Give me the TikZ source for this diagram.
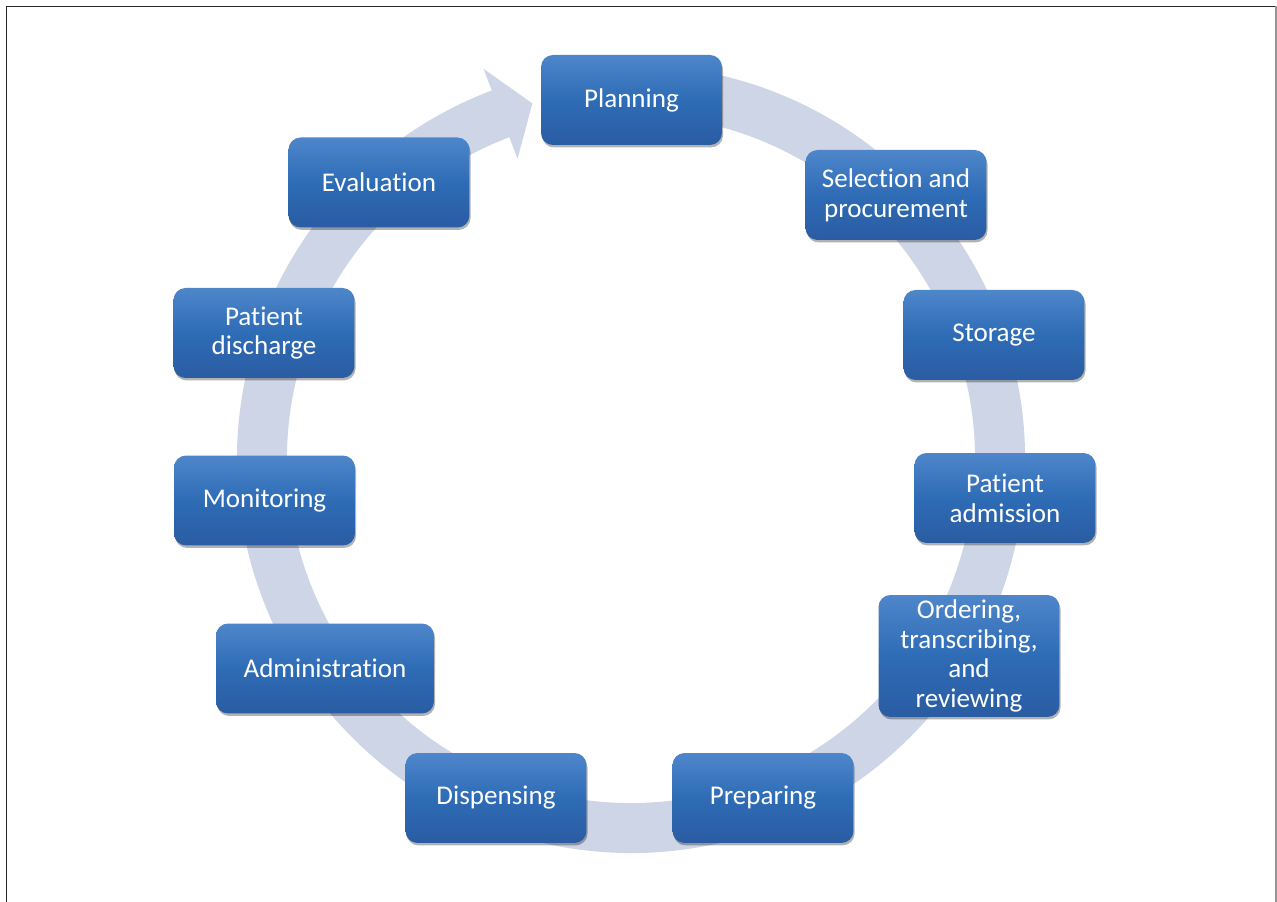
\documentclass[tikz,border=0pt]{standalone}
\usepackage{fontspec}
\setmainfont{Carlito}[Ligatures={NoCommon}]
\usetikzlibrary{shadows}
\definecolor{ringc}{RGB}{205,213,231}
\definecolor{boxtop}{RGB}{78,134,202}
\definecolor{boxmid}{RGB}{46,108,182}
\definecolor{boxbot}{RGB}{42,92,162}
\definecolor{frameL}{RGB}{40,40,40}
\definecolor{frameR}{RGB}{150,150,150}
\begin{document}
\begin{tikzpicture}[x=0.02cm,y=0.02cm,
  stage/.style={rounded corners=0.24cm, shading=axis, top color=boxtop, bottom color=boxbot, middle color=boxmid,
    text=white, font=\fontsize{15.4}{17}\selectfont, align=center, inner sep=0pt,
    minimum width=3.62cm, minimum height=1.8cm,
    drop shadow={shadow xshift=0.6pt, shadow yshift=-1.4pt, fill=black, opacity=0.3}},
  ring/.style={fill=ringc, draw=none}]
\useasboundingbox (0,0) rectangle (1277,902);
% frame
\draw[frameL, line width=1.1pt] (6.5,0) -- (6.5,895.5) -- (1276,895.5);
\draw[frameR, line width=0.8pt] (1276,895.5) -- (1276,0);
% ring with arrowhead
\coordinate (C) at (631,443);
\begin{scope}[shift={(C)}]
  \fill[ring] (80:394) arc[start angle=80, end angle=-249.3, radius=394]
    -- (110.7:417) -- (105.5:369) -- (110.7:321)
    -- (110.7:344) arc[start angle=-249.3, end angle=80, radius=344] -- cycle;
\end{scope}
% stages
\node[stage] (plan) at (631.5,802) {Planning};
\node[stage] (sel) at (896,707) {Selection and\\procurement};
\node[stage] (stor) at (994,567) {Storage};
\node[stage] (adm) at (1005,404) {Patient\\admission};
\node[stage, minimum height=2.44cm] (ord) at (969,246) {Ordering,\\transcribing,\\and\\reviewing};
\node[stage] (prep) at (763,104) {Preparing};
\node[stage] (disp) at (496,104) {Dispensing};
\node[stage, minimum width=4.36cm] (admin) at (325,233.5) {Administration};
\node[stage] (mon) at (264.5,401.5) {Monitoring};
\node[stage] (dis) at (264,569) {Patient\\discharge};
\node[stage] (eval) at (379,719.5) {Evaluation};
\end{tikzpicture}
\end{document}
